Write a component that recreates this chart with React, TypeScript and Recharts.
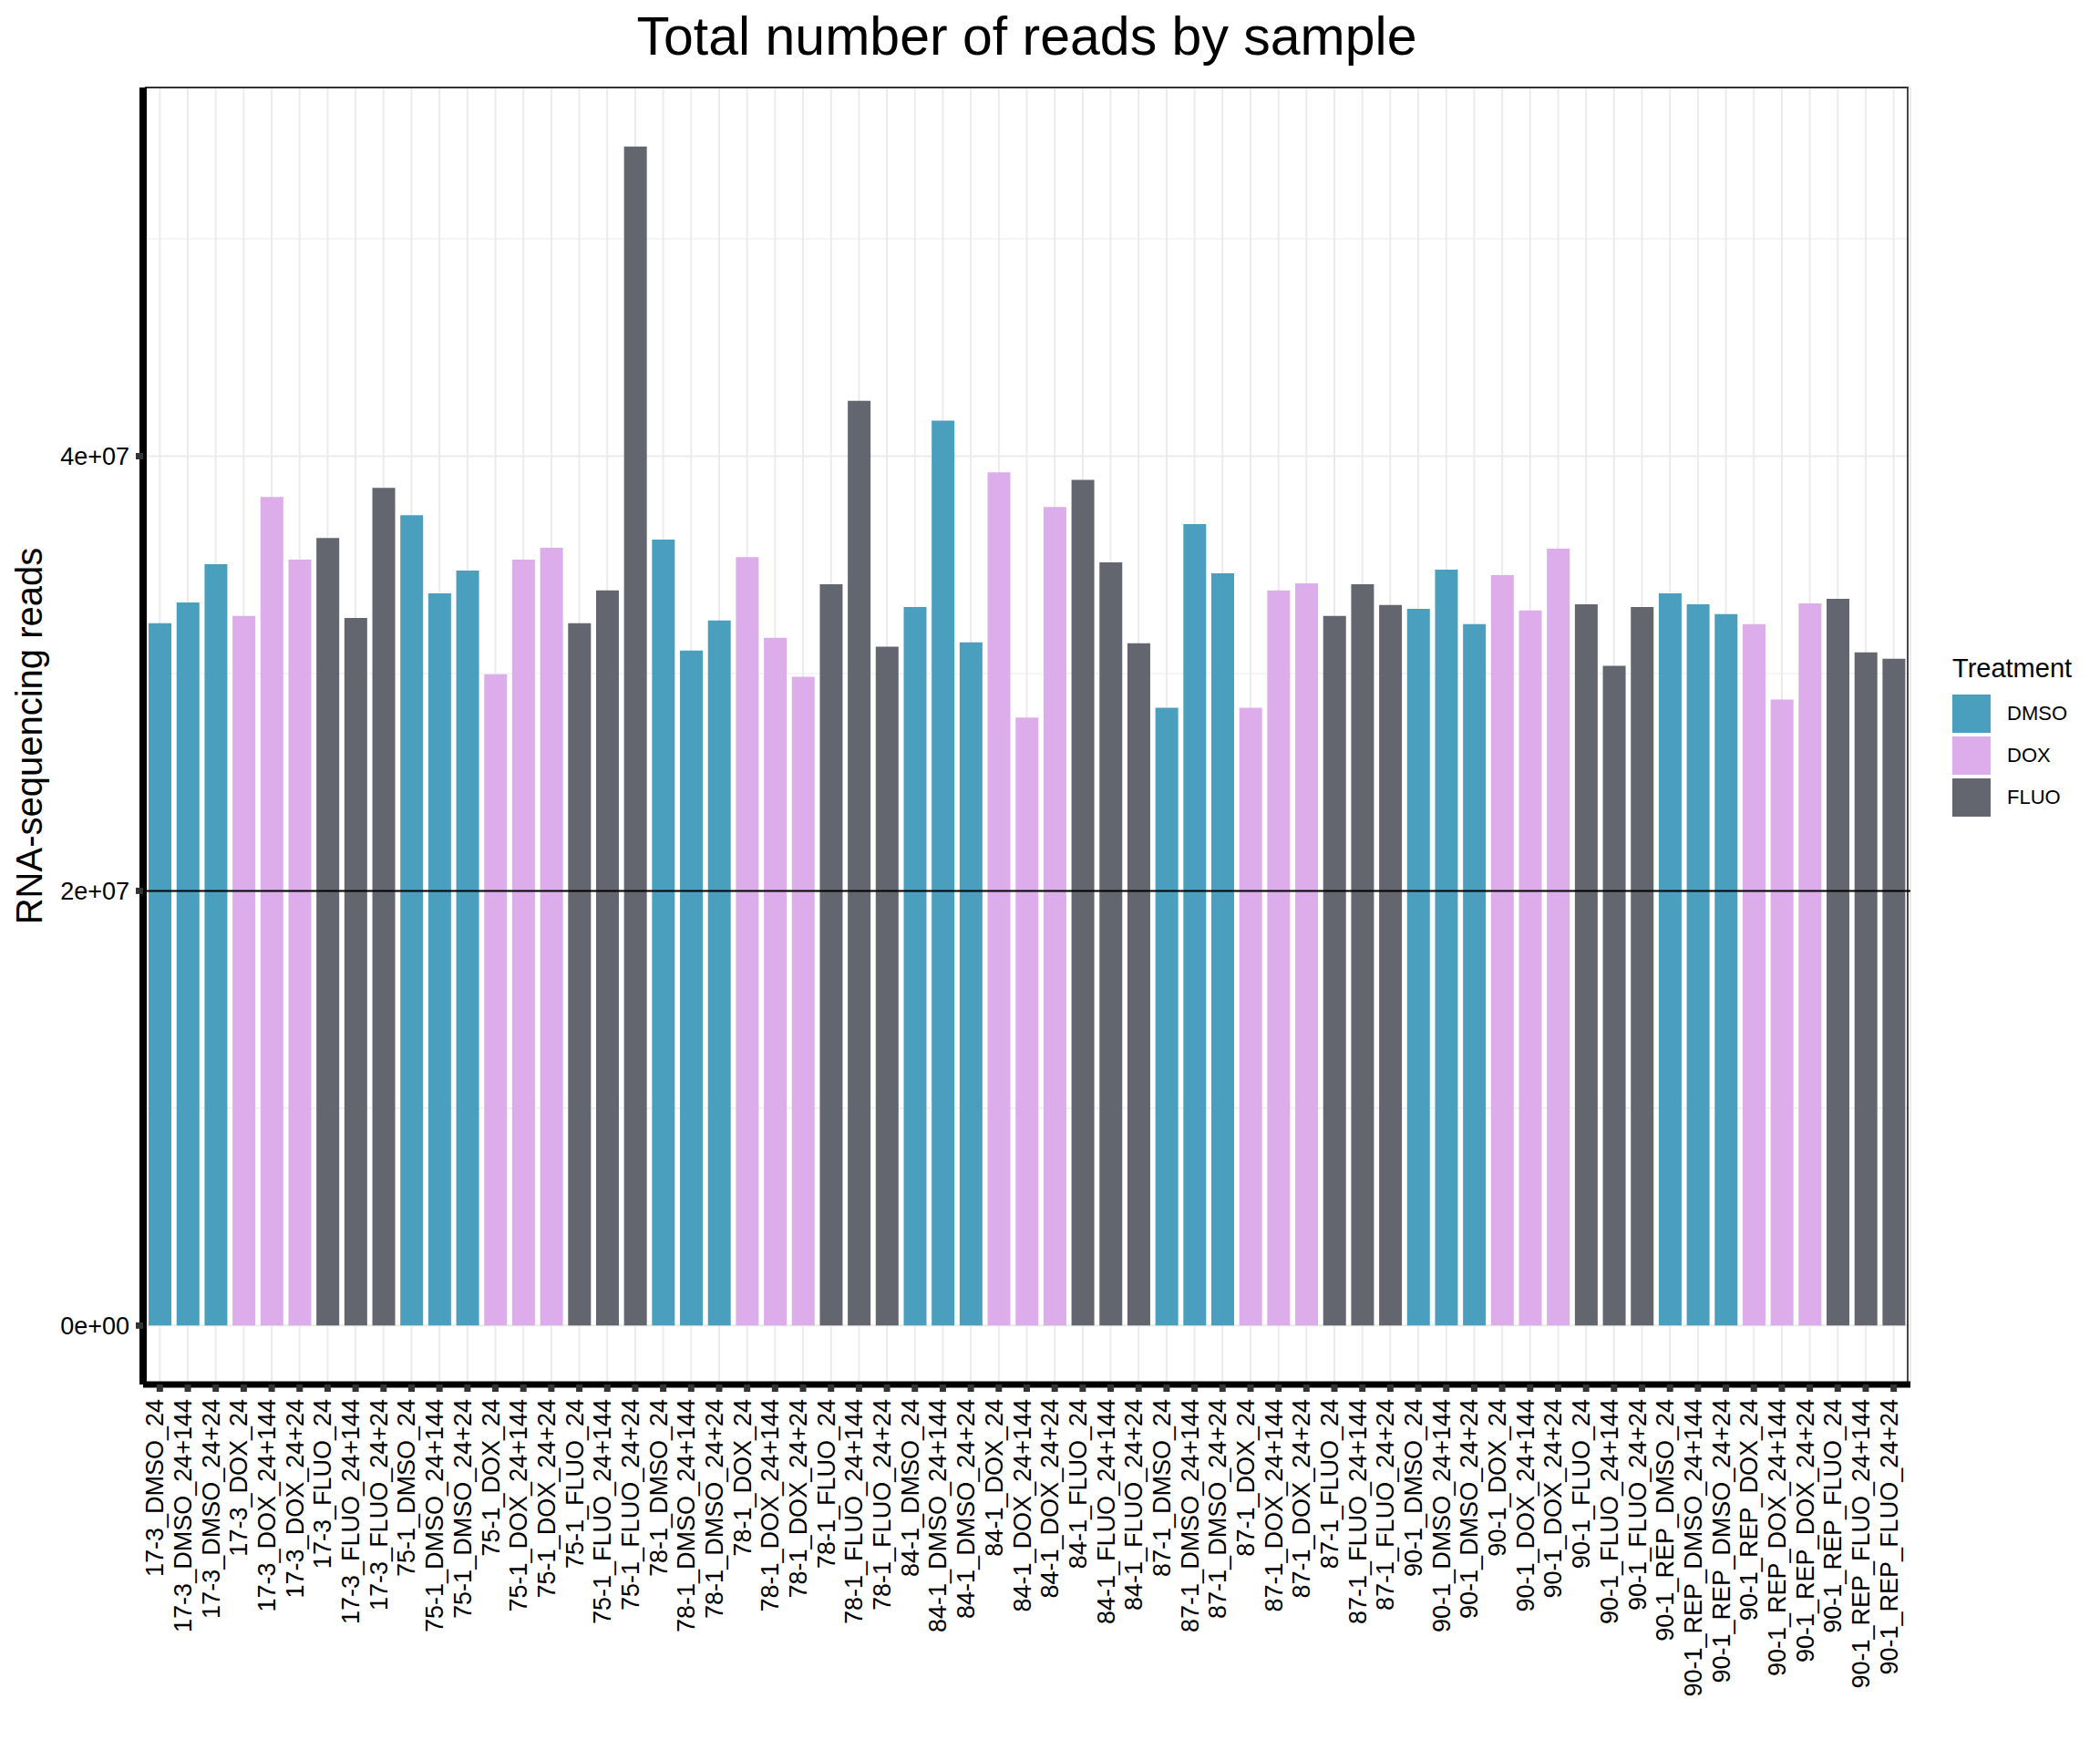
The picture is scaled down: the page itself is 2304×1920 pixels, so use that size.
import React from 'react';
import {
  BarChart,
  Bar,
  XAxis,
  YAxis,
  CartesianGrid,
  ReferenceLine,
  ReferenceArea,
  Legend,
  Cell,
} from 'recharts';

const FONT = '"Liberation Sans", Arial, Helvetica, sans-serif';

const samples = [
  '17-3_DMSO_24', '17-3_DMSO_24+144', '17-3_DMSO_24+24',
  '17-3_DOX_24', '17-3_DOX_24+144', '17-3_DOX_24+24',
  '17-3_FLUO_24', '17-3_FLUO_24+144', '17-3_FLUO_24+24',
  '75-1_DMSO_24', '75-1_DMSO_24+144', '75-1_DMSO_24+24',
  '75-1_DOX_24', '75-1_DOX_24+144', '75-1_DOX_24+24',
  '75-1_FLUO_24', '75-1_FLUO_24+144', '75-1_FLUO_24+24',
  '78-1_DMSO_24', '78-1_DMSO_24+144', '78-1_DMSO_24+24',
  '78-1_DOX_24', '78-1_DOX_24+144', '78-1_DOX_24+24',
  '78-1_FLUO_24', '78-1_FLUO_24+144', '78-1_FLUO_24+24',
  '84-1_DMSO_24', '84-1_DMSO_24+144', '84-1_DMSO_24+24',
  '84-1_DOX_24', '84-1_DOX_24+144', '84-1_DOX_24+24',
  '84-1_FLUO_24', '84-1_FLUO_24+144', '84-1_FLUO_24+24',
  '87-1_DMSO_24', '87-1_DMSO_24+144', '87-1_DMSO_24+24',
  '87-1_DOX_24', '87-1_DOX_24+144', '87-1_DOX_24+24',
  '87-1_FLUO_24', '87-1_FLUO_24+144', '87-1_FLUO_24+24',
  '90-1_DMSO_24', '90-1_DMSO_24+144', '90-1_DMSO_24+24',
  '90-1_DOX_24', '90-1_DOX_24+144', '90-1_DOX_24+24',
  '90-1_FLUO_24', '90-1_FLUO_24+144', '90-1_FLUO_24+24',
  '90-1_REP_DMSO_24', '90-1_REP_DMSO_24+144', '90-1_REP_DMSO_24+24',
  '90-1_REP_DOX_24', '90-1_REP_DOX_24+144', '90-1_REP_DOX_24+24',
  '90-1_REP_FLUO_24', '90-1_REP_FLUO_24+144', '90-1_REP_FLUO_24+24',
];

// total reads per sample, in millions
const readsMillions = [
  32.31, 33.27, 35.03, 32.65, 38.12, 35.24, 36.24, 32.56, 38.54,
  37.28, 33.69, 34.74, 29.97, 35.24, 35.78, 32.31, 33.82, 54.25,
  36.16, 31.06, 32.44, 35.36, 31.64, 29.85, 34.11, 42.55, 31.23,
  33.06, 41.63, 31.43, 39.25, 27.97, 37.66, 38.91, 35.11, 31.39,
  28.43, 36.87, 34.61, 28.43, 33.82, 34.15, 32.65, 34.11, 33.15,
  32.98, 34.78, 32.27, 34.53, 32.9, 35.74, 33.19, 30.35, 33.06,
  33.69, 33.19, 32.73, 32.27, 28.8, 33.23, 33.44, 30.97, 30.68,
];

const treatmentNames = ['DMSO', 'DOX', 'FLUO'];
const treatmentColors = ['#4A9FBF', '#DDADEB', '#63666E'];

const yTicks = [0, 20000000, 40000000];
const yMinorTicks = [10000000, 30000000, 50000000];
const thresholdReads = 20000000;

const treatmentOf = (s: string) => treatmentNames.find((t) => s.includes('_' + t + '_')) || 'DMSO';

const data = samples.map((s, i) => ({
  sample: s,
  reads: readsMillions[i] * 1e6,
  treatment: treatmentOf(s),
}));

const maxReads = Math.max(...data.map((d) => d.reads));
const yDomain = [-0.05 * maxReads, 1.05 * maxReads];

const sci = (v: number) => {
  if (v === 0) return '0e+00';
  const e = Math.floor(Math.log10(Math.abs(v)));
  const m = Math.round((v / Math.pow(10, e)) * 100) / 100;
  return `${m}e+${String(e).padStart(2, '0')}`;
};

function XTick(props: any) {
  const { x, y, payload } = props;
  return (
    <text
      x={x}
      y={y}
      dy={4}
      transform={`rotate(-90, ${x}, ${y})`}
      textAnchor="end"
      fontSize={27}
      fontFamily={FONT}
      fill="#000"
    >
      {payload.value}
    </text>
  );
}

function YTitle(props: any) {
  const vb = props.viewBox || { x: 0, y: 0, width: 0, height: 0 };
  const cx = vb.x + 46;
  const cy = vb.y + vb.height / 2;
  return (
    <text
      x={cx}
      y={cy}
      transform={`rotate(-90, ${cx}, ${cy})`}
      textAnchor="middle"
      fontSize={40}
      fontFamily={FONT}
      fill="#000"
    >
      RNA-sequencing reads
    </text>
  );
}

function TreatmentLegend() {
  return (
    <div style={{ fontFamily: FONT, color: '#000', textAlign: 'left' }}>
      <div style={{ fontSize: 29, lineHeight: '29px', whiteSpace: 'nowrap' }}>Treatment</div>
      <div style={{ marginTop: 14 }}>
        {treatmentNames.map((t, i) => (
          <div key={t} style={{ display: 'flex', alignItems: 'center', height: 42, marginBottom: 4 }}>
            <div style={{ width: 42, height: 42, background: treatmentColors[i] }} />
            <span style={{ marginLeft: 18, fontSize: 22, lineHeight: '22px' }}>{t}</span>
          </div>
        ))}
      </div>
    </div>
  );
}

export default function App() {
  return (
    <div style={{ position: 'absolute', left: 0, top: 0, width: 2304, height: 1920, background: '#fff' }}>
      <div
        style={{
          position: 'absolute',
          left: 157,
          top: 11,
          width: 1939,
          textAlign: 'center',
          fontFamily: FONT,
          fontSize: 59,
          lineHeight: '59px',
          color: '#000',
          whiteSpace: 'nowrap',
        }}
      >
        Total number of reads by sample
      </div>
      <BarChart
        width={2304}
        height={1920}
        data={data}
        margin={{ top: 96, right: 208, bottom: 41, left: 0 }}
        barCategoryGap="10%"
      >
        <CartesianGrid stroke="#EBEBEB" strokeWidth={2} />
        <CartesianGrid stroke="#EBEBEB" strokeWidth={1.1} vertical={false} horizontalValues={yMinorTicks} />
        <XAxis
          dataKey="sample"
          type="category"
          interval={0}
          height={360}
          padding={{ left: 3, right: 3 }}
          tick={<XTick />}
          tickSize={8}
          tickMargin={8}
          tickLine={{ stroke: '#333333', strokeWidth: 7 }}
          axisLine={{ stroke: '#000', strokeWidth: 7 }}
        />
        <YAxis
          type="number"
          domain={yDomain}
          allowDataOverflow
          ticks={yTicks}
          tickFormatter={sci}
          width={157}
          tickSize={8}
          tickMargin={7}
          tick={{ fill: '#000', fontSize: 27, fontFamily: FONT }}
          tickLine={{ stroke: '#333333', strokeWidth: 7 }}
          axisLine={{ stroke: '#000', strokeWidth: 8 }}
          label={<YTitle />}
        />
        <Bar dataKey="reads" isAnimationActive={false}>
          {data.map((d) => (
            <Cell key={d.sample} fill={treatmentColors[treatmentNames.indexOf(d.treatment)]} />
          ))}
        </Bar>
        <ReferenceLine y={thresholdReads} stroke="#000" strokeWidth={2} />
        <ReferenceArea y1={yDomain[0]} y2={yDomain[1]} fill="none" fillOpacity={0} stroke="#333333" strokeWidth={1.8} />
        <Legend
          layout="vertical"
          align="center"
          verticalAlign="middle"
          content={<TreatmentLegend />}
          wrapperStyle={{ left: 2142, top: 719, width: 'auto', height: 'auto', right: 'auto', bottom: 'auto' }}
        />
      </BarChart>
    </div>
  );
}
